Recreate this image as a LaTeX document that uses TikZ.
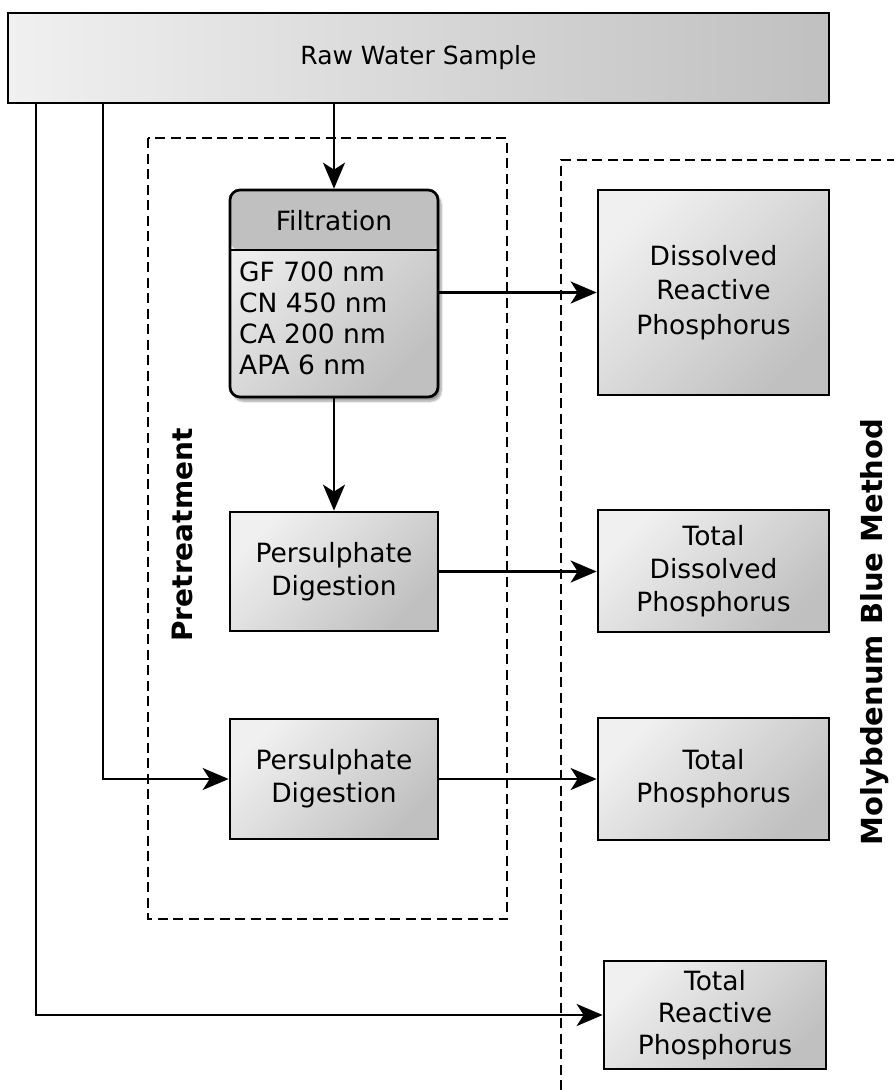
\documentclass[tikz,border=0pt]{standalone}
\usepackage{fontspec}
\setmainfont{DejaVu Sans}
\usetikzlibrary{arrows.meta,shadows.blur}
\definecolor{lite}{HTML}{F0F0F0}
\definecolor{dark}{HTML}{C0C0C0}
\definecolor{hdr}{HTML}{C0C0C0}
\tikzset{
  txt/.style={font=\fontsize{26.5}{33}\selectfont},
  procbox/.style={draw=black, line width=2.7pt, top color=lite, bottom color=dark, shading angle=45,
    align=center, inner sep=0pt, txt},
  arr/.style={line width=2.2pt, -{Stealth[length=26pt,width=22pt,inset=7pt]}},
  dashline/.style={line width=2.2pt, dash pattern=on 10pt off 5.5pt},
  grouplabel/.style={font=\fontsize{28}{30}\selectfont\bfseries, rotate=90}
}
\begin{document}
\begin{tikzpicture}[x=1pt,y=-1pt]
\useasboundingbox (0,0) rectangle (894,1090);

% dashed groups
\draw[dashline] (148,138) rectangle (507,919);
\draw[dashline] (561,1090) -- (561,160) -- (894,160);
\node[grouplabel] (pre) at (182,535) {Pretreatment};
\node[grouplabel, font=\fontsize{29}{30}\selectfont\bfseries] (moly) at (875,632) {Molybdenum Blue Method};

% raw sample
\node[draw=black, line width=2.7pt, left color=lite, right color=dark, minimum width=821, minimum height=90, inner sep=0pt, font=\fontsize{25}{30}\selectfont] (raw) at (418.5,58) {Raw Water Sample};

% filtration
\node[draw=black, line width=2.7pt, rounded corners=10pt, minimum width=208, minimum height=207, inner sep=0pt,
  top color=lite, bottom color=dark, shading angle=45,
  blur shadow={shadow xshift=3pt, shadow yshift=-4pt, shadow blur steps=6, shadow opacity=40},
  path picture={\fill[hdr] (path picture bounding box.north west) rectangle ([yshift=-60pt]path picture bounding box.north east);
    \draw[line width=2.4pt] ([yshift=-60pt]path picture bounding box.north west) -- ([yshift=-60pt]path picture bounding box.north east);}
  ] (filt) at (334,293.5) {};
\node[txt] (filttitle) at (334,221) {Filtration};
\node[font=\fontsize{26.5}{31}\selectfont, align=left, anchor=north west, inner sep=0pt] (filtlist) at (239,262) {GF 700 nm\\CN 450 nm\\CA 200 nm\\APA 6 nm};

% digestion boxes
\node[procbox, minimum width=208, minimum height=119] (pd1) at (334,571.5) {Persulphate\\Digestion};
\node[procbox, minimum width=208, minimum height=120] (pd2) at (334,779) {Persulphate\\Digestion};

% result boxes
\node[procbox, minimum width=231, minimum height=205, font=\fontsize{26.5}{34.5}\selectfont] (drp) at (713.5,292.5) {Dissolved\\Reactive\\Phosphorus};
\node[procbox, minimum width=231, minimum height=122] (tdp) at (713.5,571) {Total\\Dissolved\\Phosphorus};
\node[procbox, minimum width=231, minimum height=122] (tp) at (713.5,779) {Total\\Phosphorus};
\node[procbox, minimum width=222, minimum height=108, font=\fontsize{26.5}{32}\selectfont] (trp) at (715,1015) {Total\\Reactive\\Phosphorus};

% connectors
\coordinate (l1) at (36,0);
\coordinate (l2) at (103,0);
\draw[arr] (filt.north |- raw.south) -- (filt.north);
\draw[arr] (raw.south -| l1) |- (trp.west);
\draw[arr] (raw.south -| l2) |- (pd2.west);
\draw[arr] (filt.east |- drp.west) -- (drp.west);
\draw[arr] (filt.south) -- (pd1.north);
\draw[arr] (pd1.east) -- (tdp.west |- pd1.east);
\draw[arr] (pd2.east) -- (tp.west |- pd2.east);
\end{tikzpicture}
\end{document}
